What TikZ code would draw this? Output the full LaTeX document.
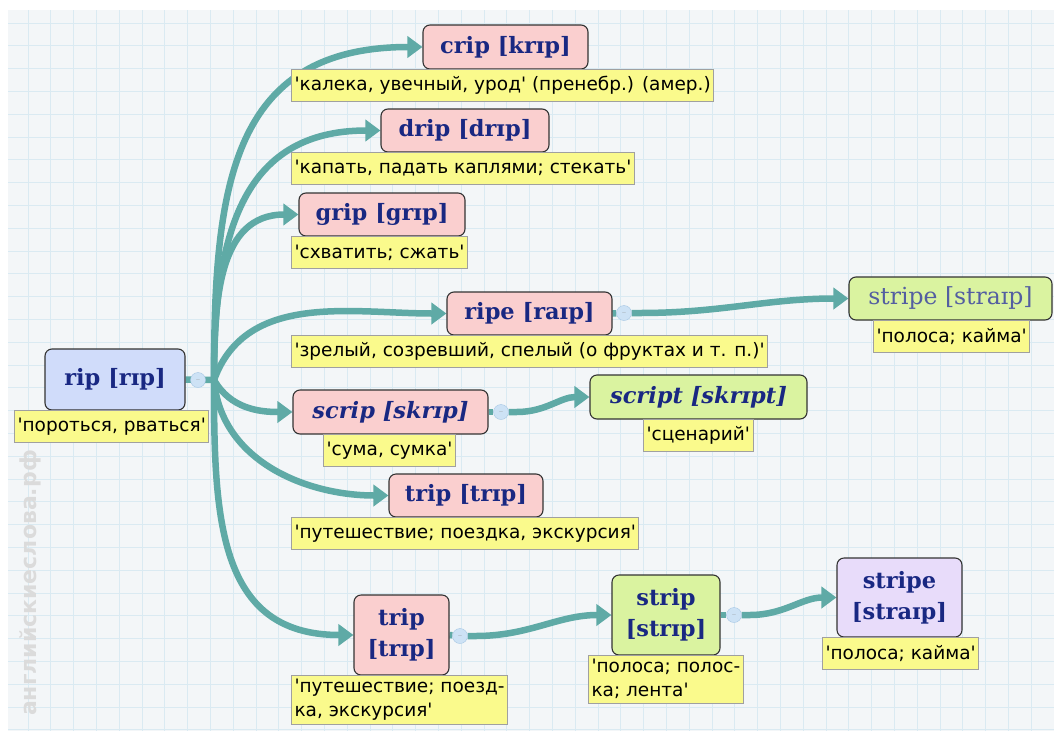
\documentclass[tikz,border=0pt]{standalone}
\usepackage{fontspec}
\newfontfamily\wordfont{DejaVu Serif}
\newfontfamily\glossfont{DejaVu Sans}[Ligatures=TeXOff]
\usepackage{tikz}
\usetikzlibrary{
  arrows.meta,%
  backgrounds,%
  positioning
}
\definecolor{pagebg}{RGB}{243,246,248}
\definecolor{gridcol}{RGB}{218,234,242}
\definecolor{branchcol}{RGB}{95,170,166}
\definecolor{wordtext}{RGB}{25,40,130}
\definecolor{pinkfill}{RGB}{250,207,207}
\definecolor{greenfill}{RGB}{218,243,160}
\definecolor{lilacfill}{RGB}{232,220,250}
\definecolor{bluefill}{RGB}{208,220,250}
\definecolor{glossfill}{RGB}{250,250,140}
\definecolor{glossline}{RGB}{160,160,160}
\definecolor{togglefill}{RGB}{205,226,245}
\definecolor{toggleline}{RGB}{165,198,228}
\tikzset{>={Triangle[length=15pt,width=21pt]}}
\tikzset{
  wordbox/.style={draw=black!80, line width=1.1pt, rounded corners=7pt,
    text=wordtext, align=center, inner sep=0pt,
    font=\wordfont\bfseries\fontsize{22.5}{31}\selectfont},
  glossbox/.style={draw=glossline, fill=glossfill, line width=1pt,
    anchor=north west, align=left, inner xsep=3pt, inner ysep=4pt,
    minimum height=32pt, font=\glossfont\fontsize{18.5}{24}\selectfont},
  toggle/.style={circle, draw=toggleline, fill=togglefill, minimum size=15pt,
    inner sep=0pt, font=\tiny, text=black!45},
  branch/.style={draw=branchcol, line width=6.5pt},
}
\newcommand{\gl}[1]{'#1'}

\begin{document}
\begin{tikzpicture}[x=1pt, y=-1pt]
  \useasboundingbox (0,0) rectangle (1054,731);
  % words
  \node[wordbox, fill=bluefill, minimum width=140pt, minimum height=61pt] (rip) at (115,379.5) {rip [rɪp]};
  \node[wordbox, fill=pinkfill, minimum width=165pt, minimum height=44pt] (crip) at (505.5,47) {crip [krɪp]};
  \node[wordbox, fill=pinkfill, minimum width=168pt, minimum height=43pt] (drip) at (465,130.5) {drip [drɪp]};
  \node[wordbox, fill=pinkfill, minimum width=166pt, minimum height=43pt] (grip) at (382,214.5) {grip [grɪp]};
  \node[wordbox, fill=pinkfill, minimum width=165pt, minimum height=43pt] (ripe) at (529.5,313.5) {ripe [raɪp]};
  \node[wordbox, fill=greenfill, minimum width=203pt, minimum height=43pt, text=wordtext!75,
    font=\wordfont\fontsize{23.5}{31}\selectfont] (stripeA) at (950.5,298.5) {stripe [straɪp]};
  \node[wordbox, fill=pinkfill, minimum width=195pt, minimum height=44pt,
    font=\wordfont\bfseries\itshape\fontsize{22.5}{31}\selectfont] (scrip) at (390.5,412) {scrip [skrɪp]};
  \node[wordbox, fill=greenfill, minimum width=217pt, minimum height=44pt,
    font=\wordfont\bfseries\itshape\fontsize{22.5}{31}\selectfont] (script) at (698.5,397) {script [skrɪpt]};
  \node[wordbox, fill=pinkfill, minimum width=154pt, minimum height=43pt] (trip) at (466,495.5) {trip [trɪp]};
  \node[wordbox, fill=pinkfill, minimum width=95pt, minimum height=80pt] (tripB) at (401.5,635) {trip\\{[}trɪp]};
  \node[wordbox, fill=greenfill, minimum width=108pt, minimum height=80pt] (strip) at (666,615) {strip\\{[}strɪp]};
  \node[wordbox, fill=lilacfill, minimum width=125pt, minimum height=79pt] (stripeB) at (899.5,597.5) {stripe\\{[}straɪp]};
  % glosses
  \node[glossbox] (ripGl) at (14,410) {\gl{пороться, рваться}};
  \node[glossbox] (cripGl) at (291,69) {\gl{калека, увечный, урод} (пренебр.) (амер.)};
  \node[glossbox] (dripGl) at (291,152) {\gl{капать, падать каплями; стекать}};
  \node[glossbox] (gripGl) at (291,236) {\gl{схватить; сжать}};
  \node[glossbox] (ripeGl) at (291,335) {\gl{зрелый, созревший, спелый (о фруктах и т. п.)}};
  \node[glossbox] (stripeAGl) at (873,320) {\gl{полоса; кайма}};
  \node[glossbox] (scripGl) at (323,434) {\gl{сума, сумка}};
  \node[glossbox] (scriptGl) at (643,419) {\gl{сценарий}};
  \node[glossbox] (tripGl) at (291,517) {\gl{путешествие; поездка, экскурсия}};
  \node[glossbox] (tripBGl) at (291,675) {'путешествие; поезд-\\ка, экскурсия'};
  \node[glossbox] (stripGl) at (588,655) {'полоса; полос-\\ка; лента'};
  \node[glossbox] (stripeBGl) at (822,637) {\gl{полоса; кайма}};
  % fold buttons
  \node[toggle] (ripT) at (198,380) {$-$};
  \node[toggle] (ripeT) at (624,313) {$-$};
  \node[toggle] (scripT) at (501,412) {$-$};
  \node[toggle] (tripBT) at (460,636) {$-$};
  \node[toggle] (stripT) at (734,615) {$-$};
  \coordinate (hub) at (214,380);
  \node[rotate=90, text=black!14, font=\glossfont\bfseries\fontsize{22}{22}\selectfont] (mark) at (30,583) {английскиеслова.рф};
  \begin{pgfonlayer}{background}
    \fill[white] (0,0) rectangle (1054,731);
    \fill[pagebg] (8,10) rectangle (1054,731);
    \foreach \gx in {28,50.8,...,1054} \draw[gridcol, line width=1pt] (\gx,10) -- (\gx,731);
    \foreach \gy in {23,45.8,...,731} \draw[gridcol, line width=1pt] (8,\gy) -- (1054,\gy);
    % branches
    \draw[branch] (rip.east) -- (hub);
    \draw[branch, ->] (hub) to[out=90, in=180, looseness=1.25] (crip.west);
    \draw[branch, ->] (hub) to[out=90, in=180, looseness=1.2] (drip.west);
    \draw[branch, ->] (hub) to[out=90, in=180, looseness=1.1] (grip.west);
    \draw[branch, ->] (hub) to[out=70, in=180] (ripe.west);
    \draw[branch, ->] (hub) to[out=-60, in=180] (scrip.west);
    \draw[branch, ->] (hub) to[out=-85, in=180] (trip.west);
    \draw[branch, ->] (hub) to[out=-90, in=180, looseness=1.2] (tripB.west);
    \draw[branch] (ripe.east) -- (ripeT);
    \draw[branch, ->] (ripeT.east) -- ++(8,0) to[out=0, in=180] (stripeA.west);
    \draw[branch] (scrip.east) -- (scripT);
    \draw[branch, ->] (scripT.east) -- ++(8,0) to[out=0, in=180] (script.west);
    \draw[branch] (tripB.east) -- (tripBT);
    \draw[branch, ->] (tripBT.east) -- ++(8,0) to[out=0, in=180] (strip.west);
    \draw[branch] (strip.east) -- (stripT);
    \draw[branch, ->] (stripT.east) -- ++(8,0) to[out=0, in=180] (stripeB.west);
  \end{pgfonlayer}
\end{tikzpicture}
\end{document}
